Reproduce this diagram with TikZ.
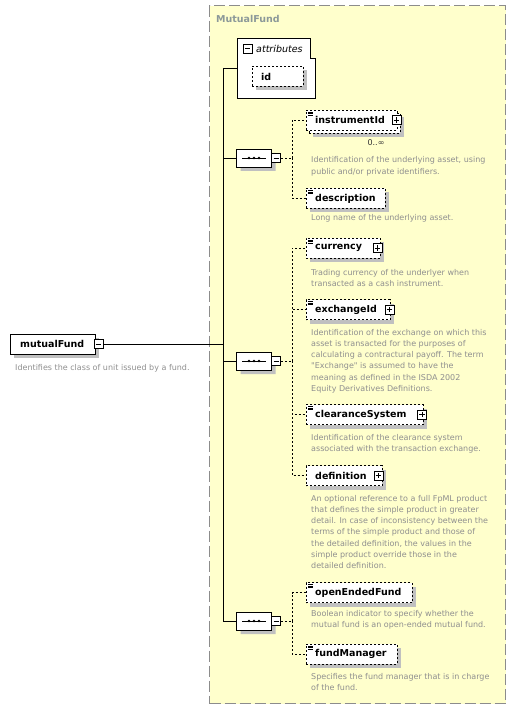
\documentclass[tikz,border=0pt]{standalone}
\usepackage{fontspec}
\setmainfont{DejaVu Sans}[Ligatures=TeXOff]
\usetikzlibrary{shapes.misc,shadows}
\definecolor{groupfill}{HTML}{FFFFCC}
\definecolor{groupline}{HTML}{8C8C8C}
\definecolor{shadowgray}{HTML}{C0C0C0}
\definecolor{docgray}{HTML}{8F8F8F}
\definecolor{titlegray}{HTML}{8C9999}

\begin{document}
\begin{tikzpicture}[
x=1pt,
y=-1pt,
shade/.style={
drop shadow={shadow xshift=4pt, shadow yshift=-4pt, fill=shadowgray, opacity=1}
},
elembox/.style={
draw,
dash pattern=on 2pt off 2pt,
fill=white,
minimum height=20pt,
inner xsep=9pt,
inner ysep=0pt,
text width=#1,
anchor=west,
font=\fontsize{9.5}{11}\selectfont\bfseries
},
elem/.style={
elembox=#1,
shade
},
typed/.style={
path picture={
\foreach \dy in {2,3.5,5}
\draw[solid, line width=0.5pt] ([shift={(2pt,-\dy pt)}]path picture bounding box.north west) -- ++(5pt,0pt);
}
},
root/.style={
draw,
fill=white,
minimum height=20pt,
inner xsep=10pt,
inner ysep=0pt,
text width=65pt,
anchor=west,
font=\fontsize{9.5}{11}\selectfont\bfseries,
shade
},
pmbox/.style={
draw,
solid,
fill=white,
line width=0.8pt,
minimum size=9pt,
inner sep=0pt
},
plus/.style={
pmbox,
path picture={
\draw[line width=0.6pt] ([xshift=1.8pt]path picture bounding box.west) -- ([xshift=-1.8pt]path picture bounding box.east)
([yshift=-1.8pt]path picture bounding box.north) -- ([yshift=1.8pt]path picture bounding box.south);
}
},
minus/.style={
pmbox,
path picture={
\draw[line width=0.6pt] ([xshift=1.8pt]path picture bounding box.west) -- ([xshift=-1.8pt]path picture bounding box.east);
}
},
seq/.style={
chamfered rectangle,
chamfered rectangle xsep=5pt,
chamfered rectangle ysep=5pt,
draw,
fill=white,
minimum width=35pt,
minimum height=18pt,
inner sep=0pt,
shade,
path picture={
\draw[black] ([xshift=-12pt]path picture bounding box.center) -- ([xshift=12pt]path picture bounding box.center);
\foreach \dx in {-5,0,5}
\fill[black] ([xshift=\dx pt]path picture bounding box.center) circle (1.3pt);
}
},
bus/.style={
dash pattern=on 2pt off 2pt
},
doc/.style={
anchor=base west,
inner sep=0pt,
align=left,
text=docgray,
font=\fontsize{8}{11.3}\selectfont
}
]

\useasboundingbox (0,0) rectangle (516,708);

\node[draw=groupline, fill=groupfill, dash pattern=on 11pt off 4pt, line width=1.2pt,
minimum width=296pt, minimum height=698pt, anchor=north west, inner sep=0pt] (group) at (209,5) {};
\node[anchor=west, inner sep=0pt, text=titlegray, font=\fontsize{9.5}{11}\selectfont\bfseries] (title) at (216,19) {MutualFund};

\draw[fill=white] (237,38) -- (310,38) -- (310,58) -- (315,58) -- (315,98) -- (237,98) -- cycle;
\node[minus] (attrs pm) at (247.5,48.5) {};
\node[anchor=west, inner sep=0pt, font=\fontsize{9.5}{11}\selectfont\itshape] (attrs) at (256,48.5) {attributes};
\coordinate (attrs in) at (237,68);
\node[elem=33pt] (id) at (252,76.5) {id};

\node[root] (mf) at (10,344) {mutualFund};
\node[minus] (mf pm) at ([xshift=3pt]mf.east) {};
\node[doc] (mf doc) at (15,370) {Identifies the class of unit issued by a fund.};

\coordinate (trunk top) at (223,68);
\coordinate (trunk bottom) at (223,621);

\node[seq] (seq1) at (254,158) {};
\node[minus] (seq1 pm) at ([xshift=4.5pt]seq1.east) {};
\coordinate (bus1) at (292,158);

\node[elem=73pt] (inst back) at (309,123) {};
\node[elembox=73pt, typed] (inst) at (306,120) {instrumentId};
\node[plus] (inst pm) at ([xshift=-1pt]inst.east) {};
\node[inner sep=0pt, text=black!80, font=\fontsize{8}{10}\selectfont] (inst occ) at (376,143) {0..∞};
\node[doc] (inst doc) at (311,174.3) {Identification of the underlying asset, using\\public and/or private identifiers.};

\node[elem=61pt, typed] (descr) at (306,198.5) {description};
\node[doc] (descr doc) at (311,221) {Long name of the underlying asset.};

\node[seq] (seq2) at (254,361) {};
\node[minus] (seq2 pm) at ([xshift=4.5pt]seq2.east) {};
\coordinate (bus2) at (292,361);

\node[elem=56pt, typed] (currency) at (306,248) {currency};
\node[plus] (currency pm) at ([xshift=-3pt]currency.east) {};
\node[doc] (currency doc) at (311,286.3) {Trading currency of the underlyer when\\transacted as a cash instrument.};

\node[elem=66pt, typed] (exchange) at (306,309.5) {exchangeId};
\node[plus] (exchange pm) at ([xshift=-1pt]exchange.east) {};
\node[doc] (exchange doc) at (311,391.5) {Identification of the exchange on which this\\asset is transacted for the purposes of\\calculating a contractural payoff. The term\\"Exchange" is assumed to have the\\meaning as defined in the ISDA 2002\\Equity Derivatives Definitions.};

\node[elem=99pt, typed] (clearance) at (306,414.5) {clearanceSystem};
\node[plus] (clearance pm) at ([xshift=-1.5pt]clearance.east) {};
\node[doc] (clearance doc) at (311,451.3) {Identification of the clearance system\\associated with the transaction exchange.};

\node[elem=58pt] (definition) at (306,475.5) {definition};
\node[plus] (definition pm) at ([xshift=-4pt]definition.east) {};
\node[doc] (definition doc) at (311,568.8) {An optional reference to a full FpML product\\that defines the simple product in greater\\detail. In case of inconsistency between the\\terms of the simple product and those of\\the detailed definition, the values in the\\simple product override those in the\\detailed definition.};

\node[seq] (seq3) at (254,621) {};
\node[minus] (seq3 pm) at ([xshift=4.5pt]seq3.east) {};
\coordinate (bus3) at (292,621);

\node[elem=88pt, typed] (openended) at (306,592.5) {openEndedFund};
\node[doc] (openended doc) at (311,627.3) {Boolean indicator to specify whether the\\mutual fund is an open-ended mutual fund.};

\node[elem=73pt, typed] (manager) at (306,654) {fundManager};
\node[doc] (manager doc) at (311,690.3) {Specifies the fund manager that is in charge\\of the fund.};

\draw (trunk top) -- (trunk bottom);
\draw (trunk top) -- (attrs in);
\draw (mf pm.east) -- (mf pm.east -| trunk top);
\draw (seq1.west -| trunk top) -- (seq1.west);
\draw (seq2.west -| trunk top) -- (seq2.west);
\draw (seq3.west -| trunk top) -- (seq3.west);

\draw[bus] (seq1 pm.east) -- (bus1);
\draw[bus] (bus1) |- (inst.west);
\draw[bus] (bus1) |- (descr.west);

\draw[bus] (seq2 pm.east) -- (bus2);
\draw[bus] (bus2) |- (currency.west);
\draw[bus] (bus2) |- (exchange.west);
\draw[bus] (bus2) |- (clearance.west);
\draw[bus] (bus2) |- (definition.west);

\draw[bus] (seq3 pm.east) -- (bus3);
\draw[bus] (bus3) |- (openended.west);
\draw[bus] (bus3) |- (manager.west);

\end{tikzpicture}
\end{document}
